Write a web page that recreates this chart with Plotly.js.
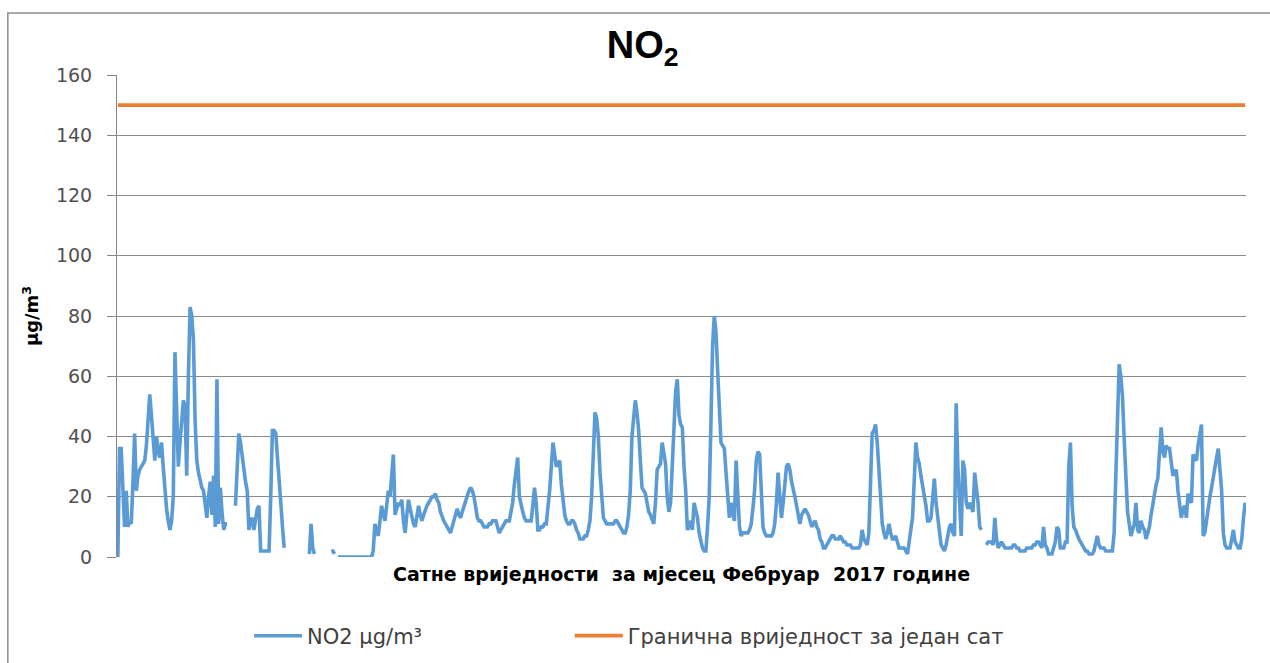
<!DOCTYPE html>
<html>
<head>
<meta charset="utf-8">
<script src="https://cdn.plot.ly/plotly-3.0.1.min.js"></script>
<style>
  html, body { margin: 0; padding: 0; background: #ffffff; }
  #chart { width: 1270px; height: 663px; }
</style>
</head>
<body>
<div id="chart"></div>
<script>
// Hourly NO2 values, February 2017 (28 days x 24 hours); null = no measurement
const day01 = [0, 36, 36, 25, 10, 22, 10, 12, 11, 25, 41, 22, 27, 29, 30, 31, 32, 37, 44, 54, 47, 40, 32, 40];
const day02 = [35, 33, 38, 30, 22, 16, 12, 9, 12, 20, 68, 50, 30, 38, 44, 52, 50, 27, 60, 83, 80, 72, 45, 32];
const day03 = [28, 25, 23, 22, 17, 13, 20, 25, 14, 27, 10, 59, 11, 23, 15, 9, 11, 11, null, null, null, null, 17, 30];
const day04 = [41, 38, 33, 28, 25, 22, 9, 12, 13, 9, 12, 16, 17, 2, 2, 2, 2, 2, 2, 20, 42, 42, 41, 33];
const day05 = [27, 18, 10, 3, null, null, null, null, null, null, null, null, null, null, null, null, null, null, 1, 11, 3, 1, null, null];
const day06 = [null, null, null, null, null, null, null, 2, 2, 1, null, 0, 0, 0, 0, 0, 0, 0, 0, 0, 0, 0, 0, 0];
const day07 = [0, 0, 0, 0, 0, 0, 0, 0, 2, 11, 9, 7, 12, 17, 14, 12, 17, 22, 20, 28, 34, 14, 16, 18];
const day08 = [17, 19, 12, 8, 14, 19, 16, 13, 11, 10, 14, 17, 14, 12, 14, 16, 17, 18, 19, 20, 20, 21, 19, 18];
const day09 = [15, 13, 12, 11, 10, 9, 8, 10, 12, 14, 16, 14, 13, 15, 17, 19, 20, 22, 23, 22, 20, 16, 13, 12];
const day10 = [12, 11, 10, 10, 10, 11, 11, 12, 12, 12, 10, 8, 9, 10, 11, 12, 12, 12, 15, 18, 24, 30, 33, 20];
const day11 = [17, 15, 13, 12, 12, 12, 12, 17, 23, 18, 9, 9, 10, 10, 11, 11, 16, 22, 30, 38, 34, 30, 31, 32];
const day12 = [24, 18, 14, 12, 11, 11, 12, 12, 11, 9, 8, 6, 6, 6, 7, 7, 9, 12, 20, 36, 48, 46, 40, 28];
const day13 = [18, 13, 12, 11, 11, 11, 11, 11, 12, 12, 11, 10, 9, 8, 8, 10, 14, 22, 40, 48, 52, 48, 42, 32];
const day14 = [23, 22, 21, 18, 15, 14, 12, 11, 18, 29, 30, 31, 38, 35, 31, 20, 15, 18, 30, 47, 55, 59, 47, 44];
const day15 = [43, 30, 22, 9, 10, 12, 9, 18, 15, 13, 8, 5, 3, 2, 2, 10, 20, 44, 70, 80, 75, 62, 48, 38];
const day16 = [37, 36, 28, 20, 13, 18, 14, 12, 32, 22, 10, 7, 8, 8, 8, 8, 9, 11, 16, 22, 32, 35, 34, 18];
const day17 = [10, 8, 7, 7, 7, 7, 8, 11, 18, 28, 20, 13, 18, 23, 30, 31, 29, 25, 23, 20, 17, 13, 11, 14];
const day18 = [15, 16, 15, 14, 12, 10, 11, 12, 10, 9, 6, 5, 3, 3, 4, 5, 6, 7, 7, 6, 6, 6, 7, 6];
const day19 = [5, 5, 4, 4, 4, 3, 3, 3, 3, 3, 4, 9, 6, 5, 4, 8, 25, 41, 42, 44, 38, 30, 20, 11];
const day20 = [8, 6, 8, 11, 8, 6, 6, 7, 5, 3, 3, 3, 3, 2, 1, 5, 10, 13, 25, 38, 33, 31, 27, 24];
const day21 = [20, 17, 12, 12, 13, 20, 26, 18, 13, 9, 4, 3, 2, 4, 8, 10, 11, 8, 7, 51, 30, 15, 7, 32];
const day22 = [29, 18, 16, 18, 16, 15, 28, 24, 18, 10, 9, null, null, 4, 5, 5, 5, 4, 13, 6, 3, 4, 5, 4];
const day23 = [3, 3, 3, 3, 3, 4, 4, 3, 3, 2, 2, 2, 2, 3, 3, 3, 3, 4, 4, 5, 5, 4, 3, 10];
const day24 = [4, 3, 1, 1, 1, 3, 5, 10, 9, 3, 3, 3, 5, 5, 30, 38, 17, 10, 9, 7, 6, 5, 4, 3];
const day25 = [2, 2, 1, 1, 1, 2, 4, 7, 4, 3, 3, 3, 2, 2, 2, 2, 2, 8, 30, 50, 64, 60, 53, 39];
const day26 = [28, 15, 11, 7, 9, 11, 18, 9, 8, 12, 10, 9, 6, 8, 10, 14, 18, 22, 24, 26, 34, 43, 35, 33];
const day27 = [37, 36, 36, 30, 27, 28, 29, 22, 17, 13, 16, 17, 13, 21, 19, 18, 34, 33, 32, 37, 40, 44, 7, 8];
const day28 = [12, 17, 20, 23, 27, 29, 33, 36, 28, 22, 8, 4, 3, 3, 3, 6, 9, 5, 4, 3, 3, 6, 13, 18];

const limitValue = 150; // hourly limit value, µg/m3

const yTicks = [0, 20, 40, 60, 80, 100, 120, 140, 160];

const seriesNames = ["NO2 \u00b5g/m\u00b3", "Гранична вриједност за један сат"];
const chartTitle = "NO<sub>2</sub>";
const xTitle = "Сатне вриједности  за мјесец Фебруар  2017 године";
const yTitle = "\u00b5g/m<sup>3</sup>";

const no2 = [].concat(day01, day02, day03, day04, day05, day06, day07, day08, day09, day10,
  day11, day12, day13, day14, day15, day16, day17, day18, day19, day20,
  day21, day22, day23, day24, day25, day26, day27, day28);
const hours = no2.map((_, i) => i + 1);
const limit = hours.map(() => limitValue);

const traces = [
  {
    x: hours, y: no2, type: "scatter", mode: "lines", name: seriesNames[0],
    line: { color: "#5B9BD5", width: 3.6 }, connectgaps: false, legend: "legend"
  },
  {
    x: hours, y: limit, type: "scatter", mode: "lines", name: seriesNames[1],
    line: { color: "#ED7D31", width: 3.8 }, legend: "legend2"
  }
];

const legendFont = { family: "DejaVu Sans, Verdana, sans-serif", size: 21, color: "#404040" };

const layout = {
  width: 1270, height: 663,
  margin: { l: 117, r: 24, t: 75, b: 106, autoexpand: false },
  paper_bgcolor: "#ffffff", plot_bgcolor: "#ffffff",
  title: {
    text: chartTitle, x: 0.506, xanchor: "center", y: 0.933, yanchor: "middle",
    font: { family: "Liberation Sans, Arial, sans-serif", size: 38, color: "#000000", weight: "bold" }
  },
  xaxis: {
    range: [0.5, 672.5], showticklabels: false, ticks: "", showgrid: false,
    zeroline: false, showline: false, automargin: false,
    title: { text: xTitle, standoff: 10,
      font: { family: "DejaVu Sans, Verdana, sans-serif", size: 19, color: "#000000", weight: "bold" } }
  },
  yaxis: {
    range: [0, 160], tickvals: yTicks, ticktext: yTicks.map(String),
    ticks: "outside", ticklen: 9, tickcolor: "#868686", tickwidth: 1,
    ticklabelstandoff: 11, automargin: false,
    showgrid: true, gridcolor: "#8a8a8a", gridwidth: 1,
    zeroline: false, showline: true, linecolor: "#868686", linewidth: 1,
    tickfont: { family: "DejaVu Sans, Verdana, sans-serif", size: 19, color: "#505050" },
    title: { text: yTitle, standoff: 12,
      font: { family: "DejaVu Sans, Verdana, sans-serif", size: 18, color: "#000000", weight: "bold" } }
  },
  showlegend: true,
  legend: {
    orientation: "h", xref: "paper", yref: "paper",
    x: 0.117, xanchor: "left", y: -0.164, yanchor: "middle",
    font: legendFont, itemwidth: 48
  },
  legend2: {
    orientation: "h", xref: "paper", yref: "paper",
    x: 0.401, xanchor: "left", y: -0.164, yanchor: "middle",
    font: legendFont, itemwidth: 48
  },
  shapes: [
    { type: "rect", xref: "paper", yref: "paper", x0: -0.0967, x1: 1.03, y0: -0.25, y1: 1.1286,
      line: { color: "#8c8c8c", width: 1.5 }, fillcolor: "rgba(0,0,0,0)", layer: "below" }
  ]
};

Plotly.newPlot("chart", traces, layout, { displayModeBar: false, staticPlot: true });
</script>
</body>
</html>
